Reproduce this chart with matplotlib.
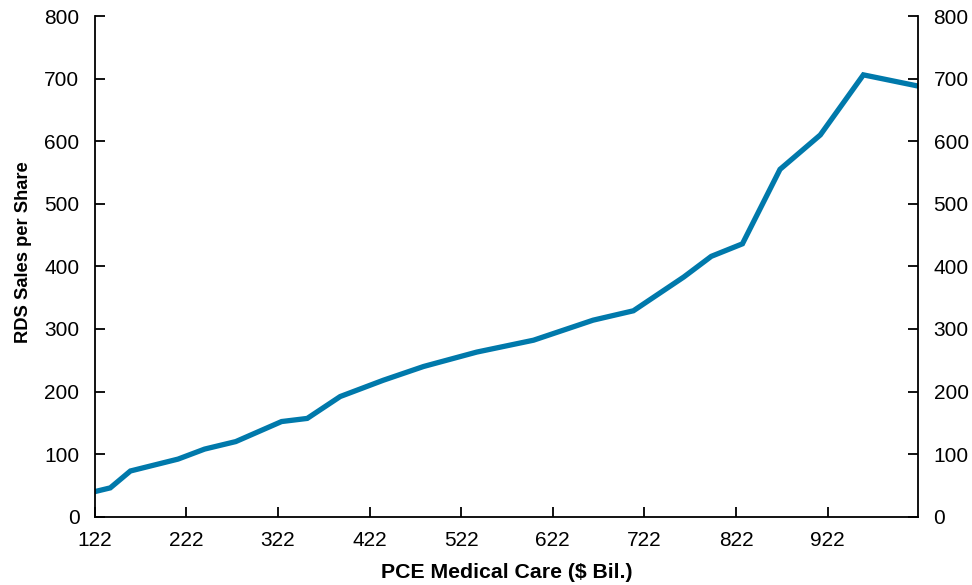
import matplotlib.pyplot as plt

plt.rcParams['font.family'] = ['Liberation Sans', 'DejaVu Sans']

# PCE medical care ($ bil.) vs RDS sales per share
pce = [122, 139, 161, 213, 242, 276, 326, 354, 390, 437, 481, 539,
       601, 666, 710, 765, 795, 829, 870, 914, 961, 1021]
sales = [40, 46, 73, 92, 108, 120, 152, 157, 192, 218, 240, 263,
         282, 314, 329, 383, 416, 436, 555, 610, 706, 688]

xticks = list(range(122, 1000, 100))
yticks = list(range(0, 801, 100))

fig = plt.figure(figsize=(9.72, 5.85), dpi=100)
ax = fig.add_axes([0.0974, 0.1168, 0.8474, 0.8558])

ax.plot(pce, sales, color='#0079ab', linewidth=3.8, solid_joinstyle='miter')

ax.set_xlim(122, 1021)
ax.set_ylim(0, 800)
ax.set_xticks(xticks)
ax.set_yticks(yticks)

ax.spines['top'].set_visible(False)
for s in ['left', 'right', 'bottom']:
    ax.spines[s].set_linewidth(1.3)

ax.tick_params(axis='both', direction='in', length=7, width=1.3, labelsize=15)
ax.tick_params(axis='y', left=True, right=True, labelright=True, pad=11)
ax.tick_params(axis='x', pad=10)

ax.set_xlabel('PCE Medical Care ($ Bil.)', fontsize=15.3, fontweight='bold', labelpad=10)
ax.set_ylabel('RDS Sales per Share', fontsize=13.2, fontweight='bold')
ax.yaxis.set_label_coords(-0.076, 0.529)

fig.savefig('out.png', dpi=100)
